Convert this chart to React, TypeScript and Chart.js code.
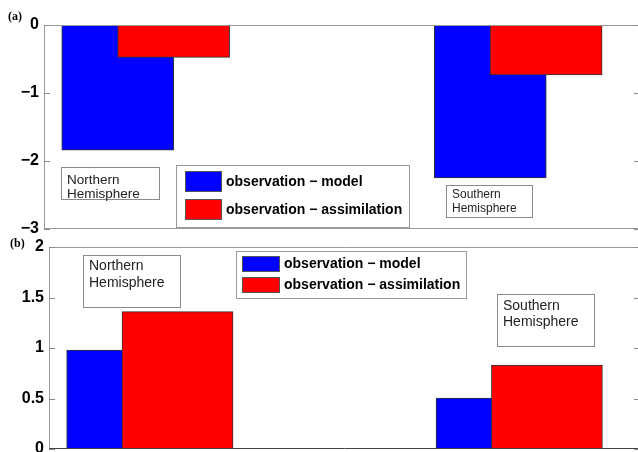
import React, { useEffect, useRef } from "react";
import { Chart, registerables } from "chart.js";
Chart.register(...registerables);

// ---------- data ----------
const categories = ["Northern Hemisphere", "Southern Hemisphere"];
const categoryPositions = [1, 2];
const seriesLabels = ["observation − model", "observation − assimilation"];
const seriesColors = ["#0000ff", "#ff0000"];
const panelAModel = [-1.84, -2.25];
const panelAAssim = [-0.475, -0.735];
const panelBModel = [0.98, 0.505];
const panelBAssim = [1.36, 0.83];
const panelATicks = [-3, -2, -1, 0];
const panelBTicks = [0, 0.5, 1, 1.5, 2];

// ---------- layout ----------
const X_MIN = 0.727;
const X_MAX = 2.327;
const BAR_OFFSET = 0.075;
const CANVAS_W = 642;
const SANS = "'Liberation Sans', Arial, Helvetica, sans-serif";
const SERIF = "'Liberation Serif', 'Times New Roman', serif";

type Note = { cat: number; x: number; y: number; w: number; h: number; tx: number; ys: number[]; size: number };
type PanelCfg = {
  label: string;
  labelX: number;
  labelY: number;
  model: number[];
  assim: number[];
  ticks: number[];
  yMin: number;
  yMax: number;
  canvasTop: number;
  canvasHeight: number;
  plotTop: number;
  plotBottom: number;
  axisWidth: number;
  barThickness: number;
  legend: { x: number; y: number; w: number; h: number; sx: number; sw: number; sh: number; sy: number[]; tx: number; ty: number[] };
  notes: Note[];
  darkBottom: boolean;
};

// all decoration coordinates are page coordinates
const panels: PanelCfg[] = [
  {
    label: "(a)",
    labelX: 8,
    labelY: 17,
    model: panelAModel,
    assim: panelAAssim,
    ticks: panelATicks,
    yMin: -3,
    yMax: 0,
    canvasTop: 0,
    canvasHeight: 250,
    plotTop: 25,
    plotBottom: 229,
    axisWidth: 44,
    barThickness: 112,
    legend: { x: 176, y: 165, w: 233, h: 62, sx: 185, sw: 37, sh: 21, sy: [171, 199], tx: 226, ty: [182, 210] },
    notes: [
      { cat: 0, x: 61, y: 167, w: 98, h: 32, tx: 67, ys: [180, 194], size: 13.5 },
      { cat: 1, x: 446, y: 185, w: 86, h: 32, tx: 452, ys: [195, 209], size: 12 },
    ],
    darkBottom: false,
  },
  {
    label: "(b)",
    labelX: 10,
    labelY: 244,
    model: panelBModel,
    assim: panelBAssim,
    ticks: panelBTicks,
    yMin: 0,
    yMax: 2,
    canvasTop: 226,
    canvasHeight: 250,
    plotTop: 247,
    plotBottom: 449,
    axisWidth: 49,
    barThickness: 111,
    legend: { x: 236, y: 251, w: 230, h: 47, sx: 242, sw: 38, sh: 16, sy: [256, 277], tx: 284, ty: [264, 285] },
    notes: [
      { cat: 0, x: 83, y: 255, w: 97, h: 52, tx: 89, ys: [266, 283], size: 14 },
      { cat: 1, x: 497, y: 294, w: 97, h: 52, tx: 503, ys: [306, 322], size: 14 },
    ],
    darkBottom: true,
  },
];

const decorPlugin = {
  id: "decor",
  afterDatasetsDraw(chart: any, _args: any, opts: any) {
    const cfg: PanelCfg = opts.cfg;
    const ctx: CanvasRenderingContext2D = chart.ctx;
    const { left, right, top, bottom } = chart.chartArea;
    const yScale = chart.scales.y;
    const oy = -cfg.canvasTop;
    ctx.save();
    // frame
    ctx.lineWidth = 1;
    ctx.strokeStyle = "#9a9a9a";
    ctx.beginPath();
    ctx.moveTo(left + 0.5, bottom);
    ctx.lineTo(left + 0.5, top + 0.5);
    ctx.lineTo(right - 0.5, top + 0.5);
    ctx.lineTo(right - 0.5, bottom);
    ctx.stroke();
    ctx.strokeStyle = cfg.darkBottom ? "#444" : "#9a9a9a";
    ctx.beginPath();
    ctx.moveTo(left, bottom - 0.5);
    ctx.lineTo(right, bottom - 0.5);
    ctx.stroke();
    // inward tick marks
    ctx.strokeStyle = "#8a8a8a";
    ctx.beginPath();
    for (const t of yScale.ticks) {
      const py = Math.round(yScale.getPixelForValue(t.value)) + 0.5;
      ctx.moveTo(left, py);
      ctx.lineTo(left + 6, py);
      ctx.moveTo(right - 6, py);
      ctx.lineTo(right, py);
    }
    ctx.stroke();

    // hemisphere notes
    for (const n of cfg.notes) {
      ctx.fillStyle = "#ffffff";
      ctx.fillRect(n.x, n.y + oy, n.w, n.h);
      ctx.strokeStyle = "#8a8a8a";
      ctx.strokeRect(n.x + 0.5, n.y + oy + 0.5, n.w, n.h);
      ctx.fillStyle = "#222";
      ctx.font = `${n.size}px ${SANS}`;
      ctx.textAlign = "left";
      ctx.textBaseline = "middle";
      const lines = categories[n.cat].split(" ");
      lines.forEach((ln, i) => ctx.fillText(ln, n.tx, n.ys[i] + oy));
    }

    // legend
    const L = cfg.legend;
    ctx.fillStyle = "#ffffff";
    ctx.fillRect(L.x, L.y + oy, L.w, L.h);
    ctx.strokeStyle = "#9a9a9a";
    ctx.strokeRect(L.x + 0.5, L.y + oy + 0.5, L.w, L.h);
    chart.data.datasets.forEach((ds: any, i: number) => {
      ctx.fillStyle = ds.backgroundColor;
      ctx.fillRect(L.sx, L.sy[i] + oy, L.sw, L.sh);
      ctx.strokeStyle = "#555";
      ctx.strokeRect(L.sx + 0.5, L.sy[i] + oy + 0.5, L.sw - 1, L.sh - 1);
      ctx.fillStyle = "#000";
      ctx.font = `bold 14px ${SANS}`;
      ctx.textAlign = "left";
      ctx.textBaseline = "middle";
      ctx.fillText(ds.label, L.tx, L.ty[i] + oy);
    });

    // panel label
    ctx.fillStyle = "#000";
    ctx.font = `bold 12px ${SERIF}`;
    ctx.textAlign = "left";
    ctx.textBaseline = "middle";
    ctx.fillText(cfg.label, cfg.labelX, cfg.labelY + oy);
    ctx.restore();
  },
};

function Panel({ cfg }: { cfg: PanelCfg }) {
  const ref = useRef<HTMLCanvasElement>(null);
  useEffect(() => {
    const canvas = ref.current!;
    const chart = new Chart(canvas, {
      type: "bar",
      data: {
        datasets: [
          {
            label: seriesLabels[0],
            data: categoryPositions.map((p, i) => ({ x: p - BAR_OFFSET, y: cfg.model[i] })),
            backgroundColor: seriesColors[0],
            borderColor: "#333",
            borderWidth: 1,
            barThickness: cfg.barThickness,
            grouped: false,
            order: 1,
          } as any,
          {
            label: seriesLabels[1],
            data: categoryPositions.map((p, i) => ({ x: p + BAR_OFFSET, y: cfg.assim[i] })),
            backgroundColor: seriesColors[1],
            borderColor: "#333",
            borderWidth: 1,
            barThickness: cfg.barThickness,
            grouped: false,
            order: 0,
          } as any,
        ],
      },
      options: {
        responsive: false,
        animation: false,
        devicePixelRatio: 1,
        layout: {
          padding: {
            top: cfg.plotTop - cfg.canvasTop,
            bottom: cfg.canvasTop + cfg.canvasHeight - cfg.plotBottom,
            left: 0,
            right: 2,
          },
        },
        plugins: {
          legend: { display: false },
          tooltip: { enabled: false },
          decor: { cfg },
        } as any,
        scales: {
          x: { type: "linear", min: X_MIN, max: X_MAX, display: false, offset: false, grid: { offset: false } },
          y: {
            type: "linear",
            min: cfg.yMin,
            max: cfg.yMax,
            grid: { display: false, drawTicks: false },
            border: { display: false },
            ticks: {
              color: "#000",
              padding: 5,
              font: { family: SANS, size: 16, weight: "bold" },
              callback: (v: any) => String(v).replace("-", "\u2212"),
            },
            afterBuildTicks: (s: any) => {
              s.ticks = cfg.ticks.map((v) => ({ value: v }));
            },
            afterFit: (s: any) => {
              s.width = cfg.axisWidth;
            },
          },
        } as any,
      },
      plugins: [decorPlugin],
    });
    return () => chart.destroy();
  }, []);
  return (
    <canvas
      ref={ref}
      width={CANVAS_W}
      height={cfg.canvasHeight}
      style={{ position: "absolute", left: 0, top: cfg.canvasTop, width: CANVAS_W, height: cfg.canvasHeight }}
    />
  );
}

export default function App() {
  return (
    <div style={{ position: "absolute", left: 0, top: 0, width: 638, height: 452, overflow: "hidden", background: "#fff" }}>
      {panels.map((p) => (
        <Panel key={p.label} cfg={p} />
      ))}
    </div>
  );
}
